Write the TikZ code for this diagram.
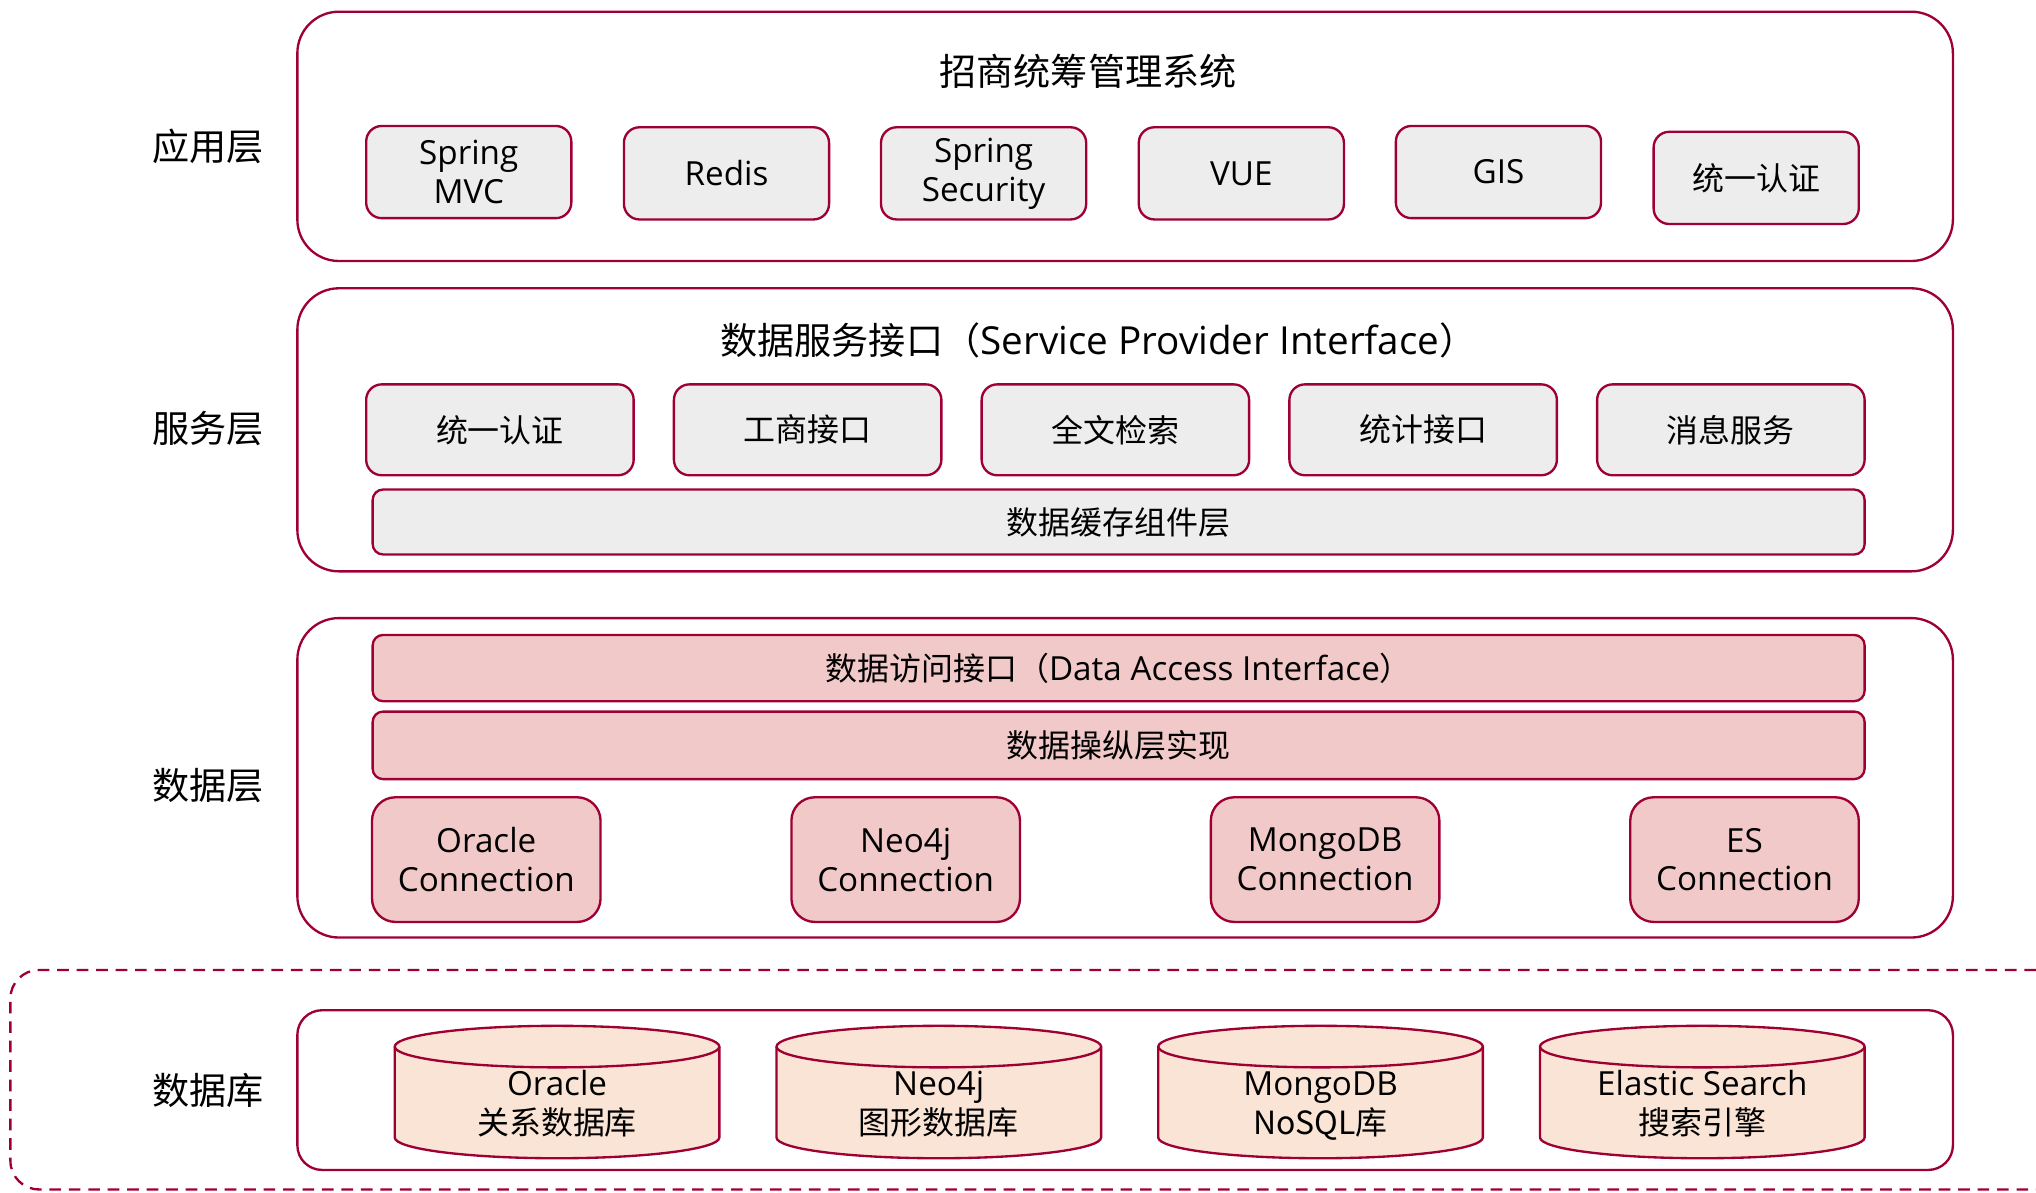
\documentclass[tikz,border=0pt]{standalone}
\usepackage{fontspec}
\setmainfont{Open Sans}[Scale=1.04]
\newfontfamily\cjk{Noto Sans CJK SC}
\usepackage{tikz}
\definecolor{crimson}{RGB}{158,0,50}
\definecolor{graybox}{RGB}{237,237,237}
\definecolor{pinkbox}{RGB}{242,201,201}
\definecolor{peach}{RGB}{250,228,214}
\newcommand{\boxfont}{\fontsize{12.3}{15}\selectfont}
\newcommand{\headfont}{\fontsize{14.3}{17}\selectfont}

\begin{document}
\begin{tikzpicture}[x=0.5pt, y=0.5pt,
    frame/.style={draw=crimson, line width=0.9pt},
    layer/.style={frame, rounded corners=16pt, minimum width=637.5pt},
    module/.style={frame, fill=graybox, rounded corners=6pt, align=center,
      font=\boxfont, inner sep=0pt},
    bar/.style={module, rounded corners=4pt, minimum width=574.5pt},
    conn/.style={module, fill=pinkbox, rounded corners=9pt,
      minimum width=88pt, minimum height=48pt},
    lid/.style={x radius=62.5pt, y radius=8pt},
    side/.style={font=\headfont\cjk}]
    \useasboundingbox (0,0) rectangle (1568,-918);

    \node[layer, minimum height=96pt]    (app)  at (866.5,-105)   {};
    \node[layer, minimum height=109pt]   (svc)  at (866.5,-331)   {};
    \node[layer, minimum height=123pt]   (data) at (866.5,-599)   {};
    \node[frame, dashed, dash pattern=on 4.5pt off 3pt, rounded corners=11pt,
          minimum width=791pt, minimum height=84.5pt] (dbzone) at (799,-831.5) {};
    \node[frame, rounded corners=9.5pt, minimum width=637.5pt,
          minimum height=61.5pt] (db) at (866.5,-839.5) {};

    \node[side] (applabel)  at (160,-113) {应用层};
    \node[side] (svclabel)  at (160,-330) {服务层};
    \node[side] (datalabel) at (160,-605) {数据层};
    \node[side] (dblabel)   at (160,-840) {数据库};

    \node[font=\headfont\cjk] (apptitle) at (838,-55) {招商统筹管理系统};
    \node[font=\headfont] (svctitle) at (846,-262)
      {{\cjk 数据服务接口（}Service Provider Interface{\cjk ）}};

    \foreach \x/\y/\t [count=\i] in {361/132.5/{Spring\\MVC}, 559.5/133.5/Redis,
        757.5/133.5/{Spring\\Security}, 956/133.5/VUE, 1154/132.5/GIS,
        1352.5/137/{\cjk 统一认证}}
      {\node[module, minimum width=79pt, minimum height=35.5pt] (app\i) at (\x,-\y) {\t};}

    \foreach \t [count=\i] in {统一认证,工商接口,全文检索,统计接口,消息服务}
      {\node[module, font=\boxfont\cjk, minimum width=103pt, minimum height=35pt]
        (svc\i) at (148+237*\i,-331) {\t};}

    \node[bar, font=\boxfont\cjk, minimum height=25pt] (cache) at (861.5,-402) {数据缓存组件层};
    \node[bar, fill=pinkbox, minimum height=25.5pt] (dai) at (861.5,-514.5)
      {{\cjk 数据访问接口（}Data Access Interface{\cjk ）}};
    \node[bar, fill=pinkbox, font=\boxfont\cjk, minimum height=26pt] (dml) at (861.5,-574) {数据操纵层实现};

    \foreach \t [count=\i] in {Oracle, Neo4j, MongoDB, ES}
      {\node[conn] (conn\i) at (51.5+323*\i,-662) {\t\\Connection};}

    \foreach \a/\b [count=\i, evaluate=\i as \cx using 135+294*\i] in {Oracle/关系数据库,
        Neo4j/图形数据库, MongoDB/NoSQL{\cjk 库}, Elastic Search/搜索引擎}
      {\draw[frame, fill=peach] (\cx-125,-806) -- (\cx-125,-876) arc[lid, start angle=180, end angle=360]
         -- (\cx+125,-806) arc[lid, start angle=0, end angle=180] -- cycle;
       \draw[frame] (\cx-125,-806) arc[lid, start angle=180, end angle=360];
       \node[align=center, font=\boxfont] (db\i) at (\cx,-853) {\strut\a\\\strut{\cjk \b}};}
\end{tikzpicture}
\end{document}
